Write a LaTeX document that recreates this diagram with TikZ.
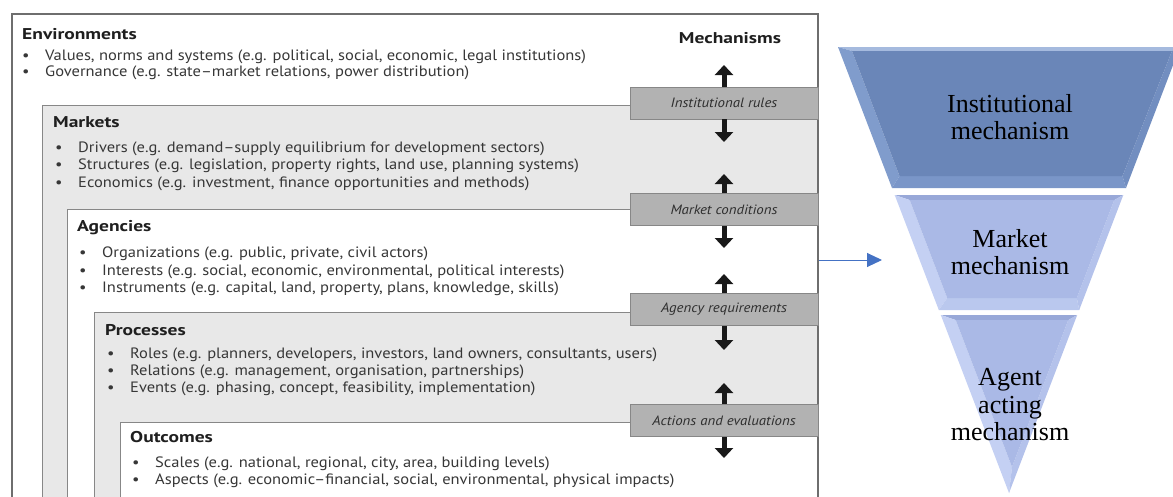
\documentclass[tikz,border=0pt]{standalone}
\usepackage{fontspec}
\setmainfont{Liberation Serif}
\newfontfamily\gillish[FakeStretch=1.1]{PT Sans}
\newfontfamily\gillishhead[FakeStretch=1.25]{PT Sans}
\usetikzlibrary{arrows.meta,calc}

\definecolor{framegray}{RGB}{110,110,110}
\definecolor{panelgray}{RGB}{135,135,135}
\definecolor{lightpanel}{RGB}{232,232,232}
\definecolor{mechfill}{RGB}{178,178,178}
\definecolor{bodytext}{RGB}{55,55,55}
\definecolor{linkblue}{RGB}{68,114,196}
% funnel, top tier
\definecolor{fAface}{RGB}{106,134,184}
\definecolor{fAtop}{RGB}{165,186,222}
\definecolor{fAleft}{RGB}{128,156,204}
\definecolor{fAbottom}{RGB}{122,150,200}
\definecolor{fAright}{RGB}{114,142,192}
% funnel, lower tiers
\definecolor{fBface}{RGB}{170,185,230}
\definecolor{fBtop}{RGB}{152,168,216}
\definecolor{fBleft}{RGB}{196,208,243}
\definecolor{fBbottom}{RGB}{186,200,238}
\definecolor{fBright}{RGB}{180,194,235}

\newcommand{\itembullet}{\makebox[23pt][l]{\textbullet}}

% bevelled trapezoid: outer corners 1-4, inner corners 5-8, colour prefix 9
\newcommand{\bevelquad}[9]{%
  \fill[#9top]    #1 -- #2 -- #6 -- #5 -- cycle;
  \fill[#9left]   #1 -- #5 -- #8 -- #4 -- cycle;
  \fill[#9bottom] #4 -- #8 -- #7 -- #3 -- cycle;
  \fill[#9right]  #2 -- #3 -- #7 -- #6 -- cycle;
  \fill[#9face]   #5 -- #6 -- #7 -- #8 -- cycle;
}

\begin{document}
\begin{tikzpicture}[x=1pt,y=-1pt,
  frame/.style={draw=framegray, line width=1.6pt, fill=white},
  graypanel/.style={draw=panelgray, line width=0.9pt, fill=lightpanel},
  whitepanel/.style={draw=panelgray, line width=0.9pt, fill=white},
  heading/.style={anchor=base west, inner sep=0pt, text=black!88,
    font=\gillishhead\bfseries\fontsize{15.6}{18}\selectfont},
  entry/.style={anchor=base west, inner sep=0pt, text=bodytext,
    font=\gillish\fontsize{15}{17}\selectfont},
  mech/.style={draw=panelgray, fill=mechfill, line width=0.8pt,
    minimum width=188pt, minimum height=32pt, inner sep=0pt, text=black!82,
    font=\gillish\itshape\fontsize{13.5}{15}\selectfont},
  mecharrow/.style={line width=5pt, draw=black!90,
    -{Triangle[width=18pt,length=10pt]}},
  tierlabel/.style={align=center, inner sep=0pt, text=black,
    font=\fontsize{26}{27.5}\selectfont},
  link/.style={draw=linkblue, line width=1pt,
    -{Triangle[width=14pt,length=15pt]}}
]
\useasboundingbox (0,0) rectangle (1173,496);
\clip (0,0) rectangle (1173,496);

% nested panels
\draw[frame]      (12,14)  rectangle (818,520);
\draw[graypanel]  (42,105) rectangle (818,520);
\draw[whitepanel] (67,209) rectangle (818,520);
\draw[graypanel]  (94,312) rectangle (818,520);
\draw[whitepanel] (120,422) rectangle (818,520);
\draw[framegray, line width=1.6pt] (818,14) -- (818,520);

% panel texts
\node[heading] (envh) at (22,39) {Environments};
\node[entry] (env1) at (22,60) {\itembullet Values, norms and systems (e.g. political, social, economic, legal institutions)};
\node[entry] (env2) at (22,76) {\itembullet Governance (e.g. state–market relations, power distribution)};

\node[heading] (markh) at (53,127) {Markets};
\node[entry] (mark1) at (55,152) {\itembullet Drivers (e.g. demand–supply equilibrium for development sectors)};
\node[entry] (mark2) at (55,169) {\itembullet Structures (e.g. legislation, property rights, land use, planning systems)};
\node[entry] (mark3) at (55,187) {\itembullet Economics (e.g. investment, finance opportunities and methods)};

\node[heading] (agh) at (77,231) {Agencies};
\node[entry] (ag1) at (79,257) {\itembullet Organizations (e.g. public, private, civil actors)};
\node[entry] (ag2) at (79,275) {\itembullet Interests (e.g. social, economic, environmental, political interests)};
\node[entry] (ag3) at (79,292) {\itembullet Instruments (e.g. capital, land, property, plans, knowledge, skills)};

\node[heading] (proch) at (105,335) {Processes};
\node[entry] (proc1) at (107,358) {\itembullet Roles (e.g. planners, developers, investors, land owners, consultants, users)};
\node[entry] (proc2) at (107,375) {\itembullet Relations (e.g. management, organisation, partnerships)};
\node[entry] (proc3) at (107,392) {\itembullet Events (e.g. phasing, concept, feasibility, implementation)};

\node[heading] (outh) at (130,442) {Outcomes};
\node[entry] (out1) at (132,467) {\itembullet Scales (e.g. national, regional, city, area, building levels)};
\node[entry] (out2) at (132,484) {\itembullet Aspects (e.g. economic–financial, social, environmental, physical impacts)};

% mechanisms column
\node[heading, anchor=base] (mechh) at (730,43) {Mechanisms};
\node[mech] (m1) at (724,103) {Institutional rules};
\node[mech] (m2) at (724,209.5) {Market conditions};
\node[mech] (m3) at (724,309.5) {Agency requirements};
\node[mech] (m4) at (724,420.5) {Actions and evaluations};

\coordinate (m1up) at (724,65);
\coordinate (m1dn) at (724,142);
\coordinate (m2up) at (724,174);
\coordinate (m2dn) at (724,248);
\coordinate (m3up) at (724,274);
\coordinate (m3dn) at (724,350);
\coordinate (m4up) at (724,383);
\coordinate (m4dn) at (724,458);

\draw[mecharrow] (m1.north) -- (m1up);
\draw[mecharrow] (m1.south) -- (m1dn);
\draw[mecharrow] (m2.north) -- (m2up);
\draw[mecharrow] (m2.south) -- (m2dn);
\draw[mecharrow] (m3.north) -- (m3up);
\draw[mecharrow] (m3.south) -- (m3dn);
\draw[mecharrow] (m4.north) -- (m4up);
\draw[mecharrow] (m4.south) -- (m4dn);

% link to the funnel
\coordinate (linkfrom) at (819,260);
\coordinate (linkto) at (882,260);
\draw[link] (linkfrom) -- (linkto);

% funnel tiers
\bevelquad{(838,47)}{(1180,47)}{(1126,188)}{(892,188)}%
          {(852,51)}{(1172,51)}{(1122.5,176)}{(899.5,176)}{fA}
\bevelquad{(894.7,195)}{(1123.3,195)}{(1079.2,310)}{(938.8,310)}%
          {(909.7,200)}{(1114.3,200)}{(1076.8,298)}{(947.2,298)}{fB}
% bottom tier is a triangle
\fill[fBtop]   (940.8,315) -- (1077.2,315) -- (1068.3,320) -- (955.7,320) -- cycle;
\fill[fBleft]  (940.8,315) -- (955.7,320) -- (1012,467) -- (1009,493) -- cycle;
\fill[fBright] (1077.2,315) -- (1009,493) -- (1012,467) -- (1068.3,320) -- cycle;
\fill[fBface]  (955.7,320) -- (1068.3,320) -- (1012,467) -- cycle;

\node[tierlabel] (tier1) at (1010,117) {Institutional\\mechanism};
\node[tierlabel] (tier2) at (1010,252) {Market\\mechanism};
\node[tierlabel] (tier3) at (1010,405) {Agent\\acting\\mechanism};
\end{tikzpicture}
\end{document}
